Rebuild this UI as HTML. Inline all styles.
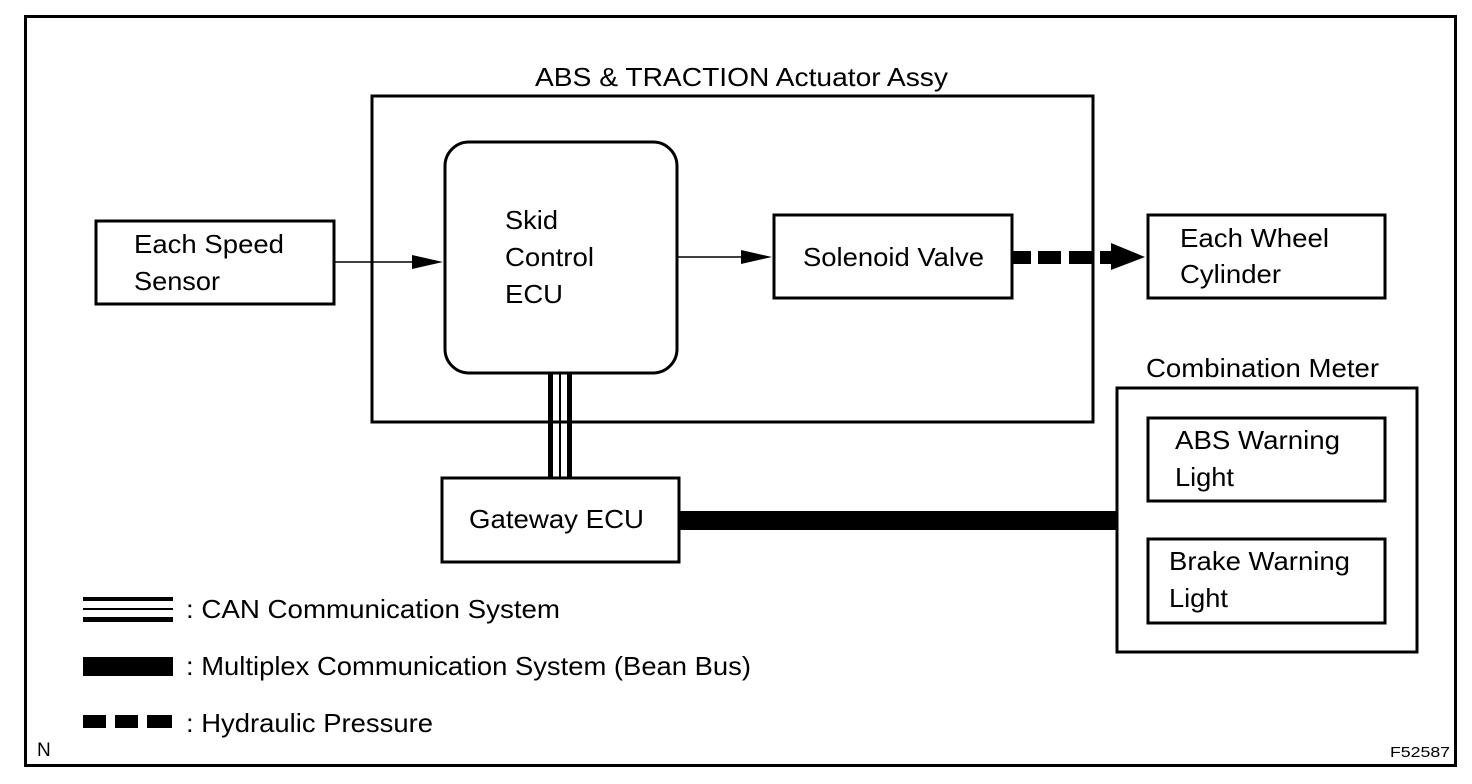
<!DOCTYPE html>
<html><head><meta charset="utf-8"><style>
html,body{margin:0;padding:0;background:#fff;}
svg{display:block;}
text{font-family:"Liberation Sans",Arial,sans-serif;font-size:26px;fill:#000;}
</style></head><body>
<svg width="1472" height="784" viewBox="0 0 1472 784" xmlns="http://www.w3.org/2000/svg">
<rect x="0" y="0" width="1472" height="784" fill="#fff"/>
<rect x="25.5" y="16.5" width="1430" height="749" fill="none" stroke="#000" stroke-width="3"/>
<rect x="372" y="96" width="721" height="326" fill="none" stroke="#000" stroke-width="3"/>
<text x="535" y="86" textLength="413" lengthAdjust="spacingAndGlyphs">ABS &amp; TRACTION Actuator Assy</text>
<rect x="548" y="373" width="5" height="105" fill="#000"/>
<rect x="559" y="373" width="2" height="105" fill="#000"/>
<rect x="567" y="373" width="5" height="105" fill="#000"/>
<rect x="445" y="142" width="232" height="231" rx="24" fill="#fff" stroke="#000" stroke-width="3"/>
<text x="505" y="229" textLength="53" lengthAdjust="spacingAndGlyphs">Skid</text>
<text x="505" y="266" textLength="89" lengthAdjust="spacingAndGlyphs">Control</text>
<text x="505" y="303" textLength="58" lengthAdjust="spacingAndGlyphs">ECU</text>
<rect x="96" y="221" width="238" height="83" fill="none" stroke="#000" stroke-width="3"/>
<text x="134" y="253" textLength="150" lengthAdjust="spacingAndGlyphs">Each Speed</text>
<text x="134" y="290" textLength="86" lengthAdjust="spacingAndGlyphs">Sensor</text>
<line x1="335" y1="262" x2="415" y2="262" stroke="#000" stroke-width="1.5"/>
<polygon points="412,255 443,262 412,269" fill="#000"/>
<line x1="678" y1="257" x2="745" y2="257" stroke="#000" stroke-width="1.5"/>
<polygon points="741,250 772,257 741,264" fill="#000"/>
<rect x="774" y="215" width="238" height="83" fill="none" stroke="#000" stroke-width="3"/>
<text x="803" y="266" textLength="181" lengthAdjust="spacingAndGlyphs">Solenoid Valve</text>
<rect x="1013" y="251" width="18" height="13" fill="#000"/>
<rect x="1038" y="251" width="23" height="13" fill="#000"/>
<rect x="1069" y="251" width="23" height="13" fill="#000"/>
<rect x="1100" y="251" width="12" height="13" fill="#000"/>
<polygon points="1111,243 1145,257 1111,270" fill="#000"/>
<rect x="1148" y="215" width="237" height="83" fill="none" stroke="#000" stroke-width="3"/>
<text x="1180" y="247" textLength="149" lengthAdjust="spacingAndGlyphs">Each Wheel</text>
<text x="1180" y="283" textLength="101" lengthAdjust="spacingAndGlyphs">Cylinder</text>
<rect x="442" y="478" width="237" height="84" fill="none" stroke="#000" stroke-width="3"/>
<text x="469" y="528" textLength="175" lengthAdjust="spacingAndGlyphs">Gateway ECU</text>
<rect x="680" y="511" width="436" height="19" fill="#000"/>
<text x="1146" y="377" textLength="233" lengthAdjust="spacingAndGlyphs">Combination Meter</text>
<rect x="1117" y="388" width="300" height="264" fill="none" stroke="#000" stroke-width="3"/>
<rect x="1148" y="418" width="237" height="83" fill="none" stroke="#000" stroke-width="3"/>
<text x="1175" y="449" textLength="165" lengthAdjust="spacingAndGlyphs">ABS Warning</text>
<text x="1175" y="486" textLength="59" lengthAdjust="spacingAndGlyphs">Light</text>
<rect x="1148" y="539" width="237" height="84" fill="none" stroke="#000" stroke-width="3"/>
<text x="1169" y="570" textLength="181" lengthAdjust="spacingAndGlyphs">Brake Warning</text>
<text x="1169" y="607" textLength="59" lengthAdjust="spacingAndGlyphs">Light</text>
<rect x="83" y="597" width="90" height="4" fill="#000"/>
<rect x="83" y="608" width="90" height="2" fill="#000"/>
<rect x="83" y="617" width="90" height="5" fill="#000"/>
<text x="186" y="618" textLength="374" lengthAdjust="spacingAndGlyphs">: CAN Communication System</text>
<rect x="83" y="657" width="90" height="19" fill="#000"/>
<text x="186" y="675" textLength="565" lengthAdjust="spacingAndGlyphs">: Multiplex Communication System (Bean Bus)</text>
<rect x="83" y="715" width="23" height="13" fill="#000"/>
<rect x="115" y="715" width="23" height="13" fill="#000"/>
<rect x="147" y="715" width="25" height="13" fill="#000"/>
<text x="186" y="732" textLength="247" lengthAdjust="spacingAndGlyphs">: Hydraulic Pressure</text>
<text x="37" y="756" style="font-size:19px">N</text>
<text x="1390" y="757" style="font-size:15px" textLength="60" lengthAdjust="spacingAndGlyphs">F52587</text>
</svg>
</body></html>
